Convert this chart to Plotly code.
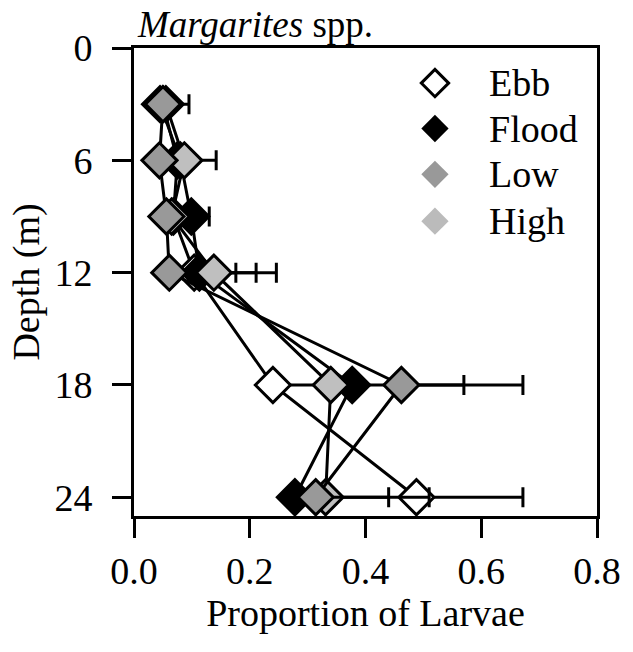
import plotly.graph_objects as go

# Sampling depths (m) and proportion of larvae per tidal phase
depths = [3, 6, 9, 12, 18, 24]
ebb = [0.050, 0.075, 0.068, 0.104, 0.240, 0.488]
flood = [0.045, 0.080, 0.099, 0.113, 0.377, 0.278]
low = [0.050, 0.044, 0.056, 0.061, 0.462, 0.314]
high = [0.055, 0.087, 0.065, 0.138, 0.340, 0.331]

# One-sided (upper) error values
ebb_err = [0, 0, 0, 0.072, 0.330, 0.184]
flood_err = [0.050, 0, 0.031, 0.098, 0, 0.162]
low_err = [0, 0, 0, 0, 0.210, 0.196]
high_err = [0, 0.055, 0, 0.108, 0, 0]

x_ticks = [0.0, 0.2, 0.4, 0.6, 0.8]
x_tick_text = ["0.0", "0.2", "0.4", "0.6", "0.8"]
y_ticks = [0, 6, 12, 18, 24]

legend_labels = ["Ebb", "Flood", "Low", "High"]

FONT = "Liberation Serif"
FS = 38
font_main = dict(family=FONT, size=FS, color="black")

fig = go.Figure()

series = [
    ("Ebb", ebb, ebb_err, "#FFFFFF"),
    ("Flood", flood, flood_err, "#000000"),
    ("High", high, high_err, "#BFBFBF"),
    ("Low", low, low_err, "#999999"),
]
for name, vals, err, color in series:
    fig.add_trace(go.Scatter(
        x=vals, y=depths, name=name, mode="lines+markers",
        line=dict(color="black", width=3),
        marker=dict(symbol="diamond", size=27, color=color,
                    line=dict(color="black", width=3)),
        error_x=dict(type="data", symmetric=False, array=err,
                     arrayminus=[0] * len(err), color="black",
                     thickness=3, width=10),
        showlegend=False,
    ))

# Legend drawn on an overlay axis spanning the plot area
leg_fill = {"Ebb": "#FFFFFF", "Flood": "#000000", "Low": "#999999", "High": "#BBBBBB"}
leg_line = {"Ebb": 3, "Flood": 0, "Low": 0, "High": 0}
leg_y = [0.925, 0.828, 0.730, 0.630]
for lab, yy in zip(legend_labels, leg_y):
    fig.add_trace(go.Scatter(
        x=[0.65], y=[yy], mode="markers", xaxis="x2", yaxis="y2",
        marker=dict(symbol="diamond", size=21, color=leg_fill[lab],
                    line=dict(color="black", width=leg_line[lab])),
        showlegend=False, hoverinfo="skip",
    ))
    fig.add_annotation(
        x=0.763, y=yy, xref="x2", yref="y2", text=lab, showarrow=False,
        xanchor="left", yanchor="middle", font=font_main,
    )

fig.add_annotation(
    x=0.0, y=1.0, xref="paper", yref="paper", xshift=2, yshift=24,
    text="<i>Margarites</i> spp.", showarrow=False,
    xanchor="left", yanchor="middle", borderpad=0,
    font=dict(family=FONT, size=37, color="black"),
)

fig.update_layout(
    width=633, height=652,
    margin=dict(l=134, r=30, t=48, b=136),
    paper_bgcolor="white", plot_bgcolor="white",
    font=font_main,
    xaxis=dict(
        range=[0, 0.8], tickvals=x_ticks, ticktext=x_tick_text,
        ticks="outside", ticklen=19, tickwidth=3, tickcolor="black",
        showline=True, linewidth=3, linecolor="black", mirror=True,
        showgrid=False, zeroline=False, tickfont=font_main,
        title=dict(text="Proportion of Larvae", standoff=6, font=font_main),
    ),
    yaxis=dict(
        range=[25, 0], tickvals=y_ticks,
        ticks="outside", ticklen=19, tickwidth=3, tickcolor="black",
        showline=True, linewidth=3, linecolor="black", mirror=True,
        showgrid=False, zeroline=False, tickfont=font_main,
        ticklabelstandoff=12,
        title=dict(text="Depth (m)", standoff=4, font=font_main),
    ),
    xaxis2=dict(overlaying="x", range=[0, 1], visible=False, fixedrange=True),
    yaxis2=dict(overlaying="y", range=[0, 1], visible=False, fixedrange=True),
)

fig.write_html("out.html")
